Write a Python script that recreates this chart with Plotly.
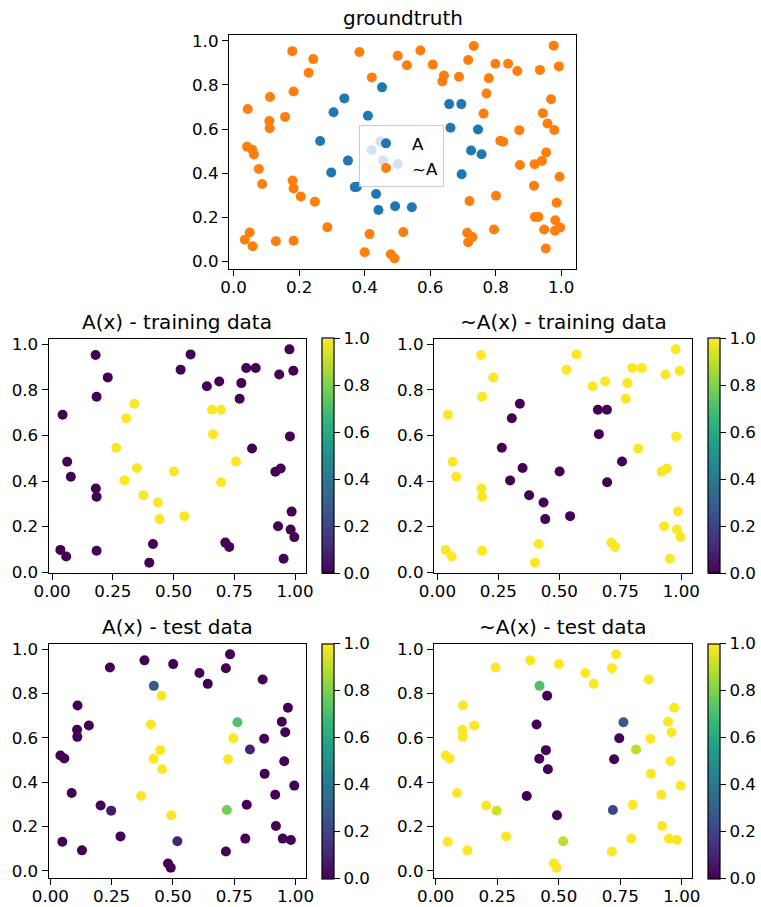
import plotly.graph_objects as go

# ---------------- data ----------------
train_x = [0.179, 0.570, 0.977, 0.229, 0.529, 0.799, 0.838, 0.935, 0.993, 0.637,
           0.688, 0.779, 0.772, 0.183, 0.043, 0.338, 0.305, 0.658, 0.695, 0.662,
           0.979, 0.264, 0.823, 0.062, 0.077, 0.757, 0.349, 0.501, 0.919, 0.941,
           0.298, 0.696, 0.180, 0.183, 0.376, 0.435, 0.442, 0.544, 0.986, 0.930,
           0.982, 0.997, 0.713, 0.729, 0.415, 0.034, 0.058, 0.183, 0.400, 0.953]
train_y = [0.953, 0.956, 0.978, 0.855, 0.889, 0.896, 0.896, 0.868, 0.884, 0.816,
           0.837, 0.830, 0.761, 0.770, 0.691, 0.739, 0.676, 0.713, 0.713, 0.606,
           0.596, 0.546, 0.543, 0.485, 0.419, 0.486, 0.457, 0.442, 0.441, 0.455,
           0.403, 0.395, 0.367, 0.331, 0.338, 0.306, 0.233, 0.246, 0.266, 0.202,
           0.187, 0.154, 0.130, 0.111, 0.124, 0.098, 0.069, 0.094, 0.042, 0.059]
train_A = [0, 0, 0, 0, 0, 0, 0, 0, 0, 0,
           0, 0, 0, 0, 0, 1, 1, 1, 1, 1,
           0, 1, 0, 0, 0, 1, 1, 1, 0, 0,
           1, 1, 0, 0, 1, 1, 1, 1, 0, 0,
           0, 0, 0, 0, 0, 0, 0, 0, 0, 0]

test_x = [0.243, 0.384, 0.501, 0.608, 0.642, 0.716, 0.733, 0.866, 0.422, 0.453,
          0.111, 0.109, 0.110, 0.157, 0.410, 0.763, 0.746, 0.814, 0.872, 0.944,
          0.969, 0.958, 0.954, 0.041, 0.057, 0.448, 0.421, 0.456, 0.725, 0.874,
          0.995, 0.087, 0.370, 0.205, 0.248, 0.801, 0.917, 0.720, 0.493, 0.920,
          0.948, 0.981, 0.795, 0.716, 0.286, 0.518, 0.049, 0.129, 0.480, 0.491]
test_y = [0.917, 0.949, 0.932, 0.892, 0.843, 0.913, 0.976, 0.863, 0.834, 0.789,
          0.745, 0.636, 0.604, 0.655, 0.660, 0.670, 0.598, 0.547, 0.595, 0.672,
          0.735, 0.625, 0.494, 0.520, 0.506, 0.544, 0.505, 0.458, 0.503, 0.437,
          0.384, 0.351, 0.337, 0.294, 0.271, 0.298, 0.343, 0.274, 0.250, 0.202,
          0.145, 0.139, 0.145, 0.087, 0.155, 0.133, 0.131, 0.092, 0.033, 0.014]
test_truth = [0, 0, 0, 0, 0, 0, 0, 0, 0, 1,
              0, 0, 0, 0, 1, 0, 1, 0, 0, 0,
              0, 0, 0, 0, 0, 1, 1, 1, 1, 0,
              0, 0, 1, 0, 0, 0, 0, 0, 1, 0,
              0, 0, 0, 0, 0, 0, 0, 0, 0, 0]
test_pred_A = [0, 0, 0, 0, 0, 0, 0, 0, 0.28, 1,
               0, 0, 0, 0, 1, 0.72, 1, 0.1, 0, 0,
               0, 0, 0, 0, 0, 1, 1, 1, 1, 0,
               0, 0, 1, 0, 0.07, 0, 0, 0.78, 1, 0,
               0, 0, 0, 0, 0, 0.1, 0, 0, 0, 0]
test_pred_notA = [1, 1, 1, 1, 1, 1, 1, 1, 0.72, 0,
                  1, 1, 1, 1, 0, 0.28, 0, 0.9, 1, 1,
                  1, 1, 1, 1, 1, 0, 0, 0, 0, 1,
                  1, 1, 0, 1, 0.93, 1, 1, 0.22, 0, 1,
                  1, 1, 1, 1, 1, 0.9, 1, 1, 1, 1]

titles = ["groundtruth", "A(x) - training data", "~A(x) - training data",
          "A(x) - test data", "~A(x) - test data"]
legend_names = ["A", "~A"]

# ---------------- layout helpers ----------------
W, H = 761, 907
FONT = "DejaVu Sans, Liberation Sans, sans-serif"
TICK = 16.7
TITLE = 20
MS = 10
LW = 1.2
TL = 6


def xd(l, r):
    return [l / W, r / W]


def yd(t, b):
    return [1 - b / H, 1 - t / H]


def rng(vals):
    lo, hi = min(vals), max(vals)
    m = 0.05 * (hi - lo)
    return [lo - m, hi + m]


fig = go.Figure()

all_x = train_x + test_x
all_y = train_y + test_y
all_truth = train_A + test_truth

# groundtruth
gx_A = [x for x, t in zip(all_x, all_truth) if t == 1]
gy_A = [y for y, t in zip(all_y, all_truth) if t == 1]
gx_N = [x for x, t in zip(all_x, all_truth) if t == 0]
gy_N = [y for y, t in zip(all_y, all_truth) if t == 0]

fig.add_trace(go.Scatter(x=gx_A, y=gy_A, mode="markers", name=legend_names[0],
                         marker=dict(color="#1f77b4", size=MS, line=dict(width=0)),
                         xaxis="x", yaxis="y"))
fig.add_trace(go.Scatter(x=gx_N, y=gy_N, mode="markers", name=legend_names[1],
                         marker=dict(color="#ff7f0e", size=MS, line=dict(width=0)),
                         xaxis="x", yaxis="y"))

panels = [
    (train_x, train_y, train_A, "x2", "y2", 321.7, 338.7, 573.3),
    (train_x, train_y, [1 - v for v in train_A], "x3", "y3", 708.3, 338.7, 573.3),
    (test_x, test_y, test_pred_A, "x4", "y4", 321.7, 643.7, 878.3),
    (test_x, test_y, test_pred_notA, "x5", "y5", 708.3, 643.7, 878.3),
]

for px, py, pc, xa, ya, cbx, top, bot in panels:
    fig.add_trace(go.Scatter(
        x=px, y=py, mode="markers", showlegend=False, xaxis=xa, yaxis=ya,
        marker=dict(color=pc, colorscale="Viridis", cmin=0, cmax=1, size=MS,
                    line=dict(width=0), showscale=True,
                    colorbar=dict(x=cbx / W, xanchor="left", xpad=0, ypad=0,
                                  y=1 - (top + bot) / 2 / H, yanchor="middle",
                                  lenmode="pixels", len=bot - top,
                                  thicknessmode="pixels", thickness=11.6,
                                  outlinecolor="black", outlinewidth=LW,
                                  ticks="outside", ticklen=TL, tickwidth=LW,
                                  tickcolor="black",
                                  tickvals=[0, 0.2, 0.4, 0.6, 0.8, 1.0],
                                  tickformat=".1f",
                                  tickfont=dict(size=TICK, color="black", family=FONT)))))

axis_common = dict(showline=True, linecolor="black", linewidth=LW, mirror=True,
                   ticks="outside", ticklen=TL, tickwidth=LW, tickcolor="black",
                   showgrid=False, zeroline=False, automargin=False,
                   tickfont=dict(size=TICK, color="black", family=FONT))

col1 = xd(48.7, 306)
col2 = xd(434, 692.3)
row2 = yd(338.7, 573.3)
row3 = yd(643.7, 878.3)

layout = dict(
    width=W, height=H, margin=dict(l=0, r=0, t=0, b=0, autoexpand=False),
    plot_bgcolor="white", paper_bgcolor="white",
    font=dict(family=FONT, color="black"),
    xaxis=dict(domain=xd(229, 576), anchor="y", range=rng(all_x), dtick=0.2,
               tickformat=".1f", ticklabelstandoff=-3, **axis_common),
    yaxis=dict(domain=yd(35, 269), anchor="x", range=rng(all_y), dtick=0.2,
               tickformat=".1f", **axis_common),
    legend=dict(x=359 / W, y=1 - 125 / H, xanchor="left", yanchor="top",
                bgcolor="rgba(255,255,255,0.8)", bordercolor="#cccccc", borderwidth=1,
                font=dict(size=TICK, family=FONT, color="black"),
                itemwidth=42),
    showlegend=True,
)

for i, (xa, ya, dx, dy, xs, ys) in enumerate([
        ("xaxis2", "yaxis2", col1, row2, train_x, train_y),
        ("xaxis3", "yaxis3", col2, row2, train_x, train_y),
        ("xaxis4", "yaxis4", col1, row3, test_x, test_y),
        ("xaxis5", "yaxis5", col2, row3, test_x, test_y)]):
    n = i + 2
    layout[xa] = dict(domain=dx, anchor="y%d" % n, range=rng(xs), dtick=0.25,
                      tickformat=".2f", ticklabelstandoff=-3, **axis_common)
    layout[ya] = dict(domain=dy, anchor="x%d" % n, range=rng(ys), dtick=0.2,
                      tickformat=".1f", **axis_common)

fig.update_layout(**layout)

# subplot titles
title_pos = [(xd(229, 576), 35), (col1, 338.7), (col2, 338.7), (col1, 643.7), (col2, 643.7)]
for t, (dx, top) in zip(titles, title_pos):
    fig.add_annotation(text=t, x=(dx[0] + dx[1]) / 2, y=1 - top / H, xref="paper",
                       yref="paper", xanchor="center", yanchor="bottom", yshift=3,
                       showarrow=False, font=dict(size=TITLE, family=FONT, color="black"))

fig.write_html("out.html", config={"displayModeBar": False},
               post_script="document.body.style.margin='0px';document.body.style.padding='0px';")
